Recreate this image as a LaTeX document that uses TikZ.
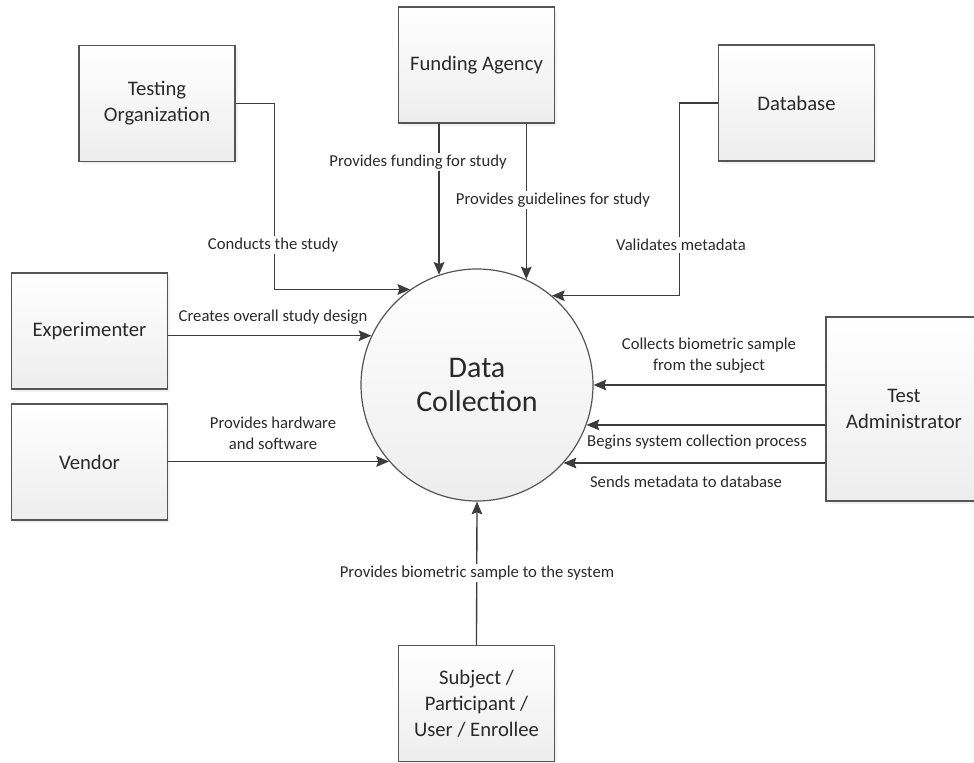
\documentclass[tikz,border=0pt]{standalone}
\usepackage{fontspec}
\setmainfont{Carlito}
\usetikzlibrary{arrows.meta,shadows,calc}

\definecolor{edge}{HTML}{555555}
\definecolor{wire}{HTML}{3C3C3C}
\definecolor{ink}{HTML}{2A2A2A}
\definecolor{shadelow}{HTML}{EDEDED}

\tikzset{
  entity/.style={draw=edge, line width=1.1pt, minimum width=117pt, minimum height=87pt,
    inner sep=2pt, align=center, top color=white, bottom color=shadelow,
    drop shadow={shadow xshift=2.2pt, shadow yshift=-2.2pt, fill=black!10},
    font=\fontsize{15.5}{19.5}\selectfont, text=ink},
  process/.style={circle, draw=edge, line width=0.9pt, minimum size=174pt, inner sep=0pt,
    align=center, top color=white, bottom color=shadelow,
    font=\fontsize{22.5}{26}\selectfont, text=ink},
  flow/.style={draw=wire, line width=1pt, -{Stealth[length=9.5pt,width=8pt,inset=1.5pt]}},
  lbl/.style={fill=white, inner sep=1.5pt, align=center,
    font=\fontsize{12.5}{15.5}\selectfont, text=ink},
}

\begin{document}
\begin{tikzpicture}[x=0.75pt, y=-0.75pt]
  \clip (0,0) rectangle (974,763);

  % external entities
  \node[entity] (torg) at (157,103.5) {Testing\\Organization};
  \node[entity] (fund) at (476.5,65) {Funding Agency};
  \node[entity] (db)   at (796.5,103) {Database};
  \node[entity] (exp)  at (89.5,331) {Experimenter};
  \node[entity] (vend) at (89.5,462) {Vendor};
  \node[entity, minimum height=138pt] (adm) at (904,409) {Test\\Administrator};
  \node[entity] (subj) at (476.5,703.5) {Subject /\\Participant /\\User / Enrollee};

  % central process
  \node[process] (dc) at (477,385) {Data\\Collection};

  % data flows into the process
  \draw[flow] (torg.east) -- ++(39,0) |- (dc.125.9);
  \draw[flow] (fund.south -| dc.109.6) -- (dc.109.6);
  \draw[flow] (fund.south -| dc.65) -- (dc.65);
  \draw[flow] (db.west) -- ++(-38,0) |- (dc.50.1);
  \draw[flow] (exp.east |- dc.155) -- (dc.155);
  \draw[flow] (vend.east |- dc.221.6) -- (dc.221.6);
  \draw[flow] (adm.west |- dc.0) -- (dc.0);
  \draw[flow] (adm.west |- dc.340.9) -- (dc.340.9);
  \draw[flow] (adm.west |- dc.318.4) -- (dc.318.4);
  \draw[flow] (subj.north) -- (dc.south);

  % flow labels
  \node[lbl] (l1)  at (273,245) {Conducts the study};
  \node[lbl] (l2)  at (418,162) {Provides funding for study};
  \node[lbl] (l3)  at (553,200) {Provides guidelines for study};
  \node[lbl] (l4)  at (681,245) {Validates metadata};
  \node[lbl] (l5)  at (273,317) {Creates overall study design};
  \node[lbl] (l6)  at (273,433) {Provides hardware\\and software};
  \node[lbl] (l7)  at (709,355.5) {Collects biometric sample\\from the subject};
  \node[lbl] (l8)  at (697,442) {Begins system collection process};
  \node[lbl] (l9)  at (686,482) {Sends metadata to database};
  \node[lbl] (l10) at (477,573) {Provides biometric sample to the system};
\end{tikzpicture}
\end{document}
